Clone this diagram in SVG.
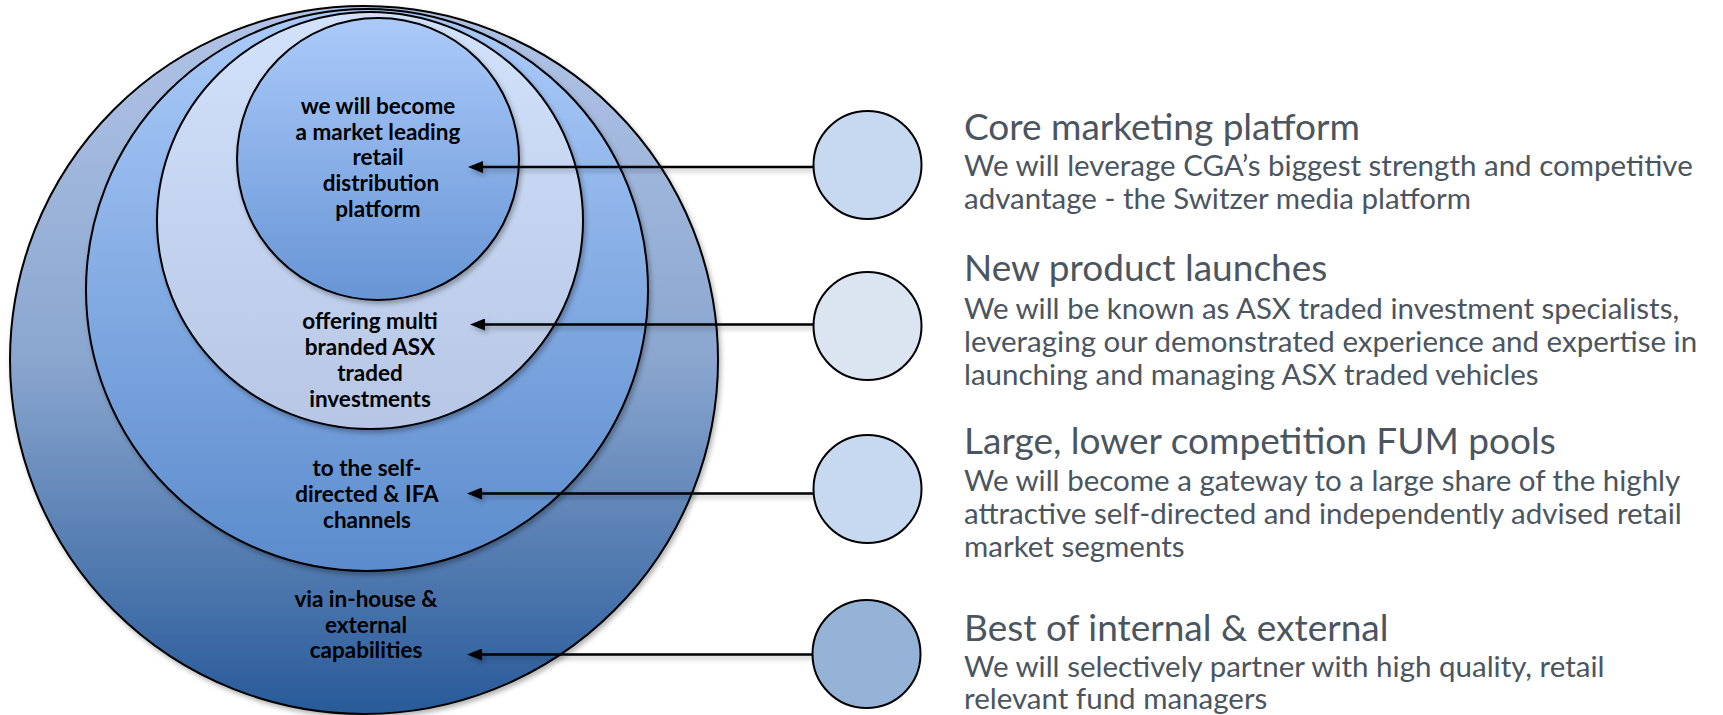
<svg xmlns="http://www.w3.org/2000/svg" width="1723" height="715" viewBox="0 0 1723 715">
<defs>
<style>
.ring{stroke:#000;stroke-width:2;}
.lbl{font-family:Lato,"Liberation Sans",sans-serif;font-weight:700;font-size:22.5px;fill:#000;text-anchor:middle;}
.ttl{font-family:Lato,"Liberation Sans",sans-serif;font-weight:400;font-size:37px;fill:#4b5560;}
.body{font-family:Lato,"Liberation Sans",sans-serif;font-weight:400;font-size:29.5px;fill:#4b5560;}
.dot{stroke:#000;stroke-width:2;}
.conn{stroke:#000;stroke-width:2.5;fill:none;marker-end:url(#arrow);}
</style>
<linearGradient id="gOuter" x1="0" y1="0" x2="0" y2="1">
<stop offset="0" stop-color="#b2c4e6"/>
<stop offset="0.5" stop-color="#8aa6cf"/>
<stop offset="1" stop-color="#285a99"/>
</linearGradient>
<linearGradient id="gSecond" x1="0" y1="0" x2="0" y2="1">
<stop offset="0" stop-color="#abcbfa"/>
<stop offset="1" stop-color="#5b8bcc"/>
</linearGradient>
<linearGradient id="gThird" x1="0" y1="0" x2="0" y2="1">
<stop offset="0" stop-color="#d2e2fc"/>
<stop offset="1" stop-color="#b6c6e4"/>
</linearGradient>
<linearGradient id="gInner" x1="0" y1="0" x2="0" y2="1">
<stop offset="0" stop-color="#abcafa"/>
<stop offset="1" stop-color="#6795d5"/>
</linearGradient>
<filter id="shadow" x="-10%" y="-10%" width="125%" height="125%">
<feDropShadow dx="2" dy="3" stdDeviation="2.5" flood-color="#000" flood-opacity="0.3"/>
</filter>
<marker id="arrow" markerWidth="16" markerHeight="12" refX="5" refY="6" orient="auto" markerUnits="userSpaceOnUse">
<path d="M0,0 L15,6 L0,12 Z" fill="#000"/>
</marker>
</defs>

<g id="ring-capabilities">
<circle class="ring" cx="364" cy="360" r="354" fill="url(#gOuter)" filter="url(#shadow)"/>
<text class="lbl" x="366" y="607">via in-house &amp;</text>
<text class="lbl" x="366" y="632.5">external</text>
<text class="lbl" x="366" y="658">capabilities</text>
</g>
<g id="ring-channels">
<circle class="ring" cx="367" cy="290" r="281" fill="url(#gSecond)" filter="url(#shadow)"/>
<text class="lbl" x="367" y="475.5">to the self-</text>
<text class="lbl" x="367" y="501.5">directed &amp; IFA</text>
<text class="lbl" x="367" y="527.5">channels</text>
</g>
<g id="ring-investments">
<ellipse class="ring" cx="370" cy="220.5" rx="213" ry="208.5" fill="url(#gThird)" filter="url(#shadow)"/>
<text class="lbl" x="370" y="328.5">offering multi</text>
<text class="lbl" x="370" y="354.5">branded ASX</text>
<text class="lbl" x="370" y="380.5">traded</text>
<text class="lbl" x="370" y="406.5">investments</text>
</g>
<g id="ring-platform">
<circle class="ring" cx="378" cy="159" r="141" fill="url(#gInner)" filter="url(#shadow)"/>
<text class="lbl" x="378" y="114">we will become</text>
<text class="lbl" x="378" y="139.5">a market leading</text>
<text class="lbl" x="378" y="165">retail</text>
<text class="lbl" x="381" y="191">distribution</text>
<text class="lbl" x="378" y="216.5">platform</text>
</g>

<g id="connectors" filter="url(#shadow)">
<line class="conn" x1="814" y1="167" x2="478" y2="167"/>
<line class="conn" x1="814" y1="324.5" x2="480" y2="324.5"/>
<line class="conn" x1="814" y1="493.5" x2="477" y2="493.5"/>
<line class="conn" x1="814" y1="654.5" x2="477" y2="654.5"/>
</g>

<g id="item-core">
<circle class="dot" cx="867.5" cy="165" r="54" fill="#c6d9f0"/>
<text class="ttl" x="964" y="139.5">Core marketing platform</text>
<text class="body" x="964" y="176">We will leverage CGA’s biggest strength and competitive</text>
<text class="body" x="964" y="209">advantage - the Switzer media platform</text>
</g>
<g id="item-launches">
<circle class="dot" cx="867.5" cy="326" r="54" fill="#dbe5f1"/>
<text class="ttl" x="964" y="281">New product launches</text>
<text class="body" x="964" y="319">We will be known as ASX traded investment specialists,</text>
<text class="body" x="964" y="352">leveraging our demonstrated experience and expertise in</text>
<text class="body" x="964" y="385">launching and managing ASX traded vehicles</text>
</g>
<g id="item-fum">
<circle class="dot" cx="867.5" cy="489" r="54" fill="#c6d9f0"/>
<text class="ttl" x="964" y="453.5">Large, lower competition FUM pools</text>
<text class="body" x="964" y="491">We will become a gateway to a large share of the highly</text>
<text class="body" x="964" y="524">attractive self-directed and independently advised retail</text>
<text class="body" x="964" y="557">market segments</text>
</g>
<g id="item-best">
<circle class="dot" cx="866.5" cy="654" r="54" fill="#95b3d7"/>
<text class="ttl" x="964" y="640.5">Best of internal &amp; external</text>
<text class="body" x="964" y="677">We will selectively partner with high quality, retail</text>
<text class="body" x="964" y="709">relevant fund managers</text>
</g>
</svg>
